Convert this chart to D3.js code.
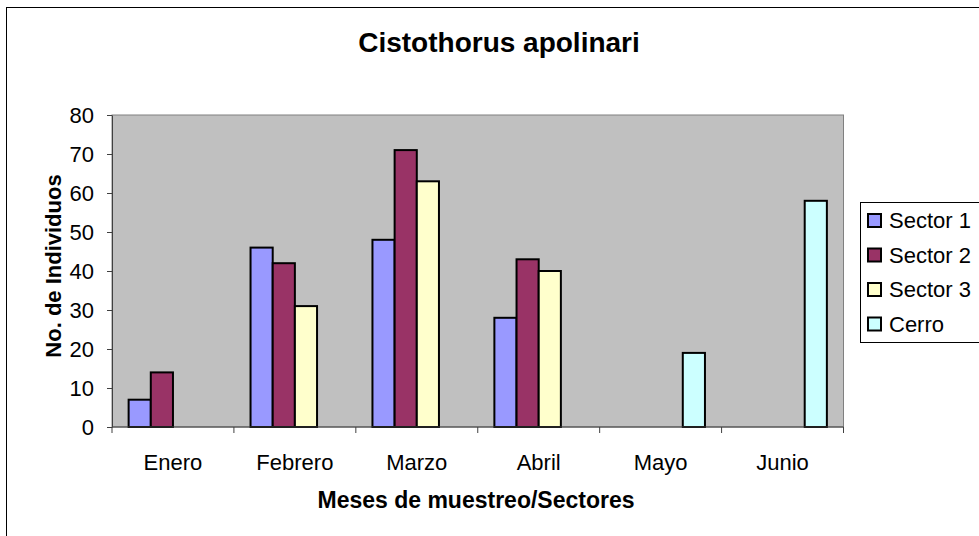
<!DOCTYPE html>
<html>
<head>
<meta charset="utf-8">
<script src="https://cdn.jsdelivr.net/npm/d3@7"></script>
<style>
  html, body { margin: 0; padding: 0; background: #fff; }
  svg { display: block; font-family: Arial, "Liberation Sans", sans-serif; }
</style>
</head>
<body>
<svg id="chart" width="979" height="536"></svg>
<script>
// Monthly counts of Cistothorus apolinari by sampling sector
const months = ["Enero", "Febrero", "Marzo", "Abril", "Mayo", "Junio"];
const seriesNames = ["Sector 1", "Sector 2", "Sector 3", "Cerro"];
const sector1 = [7, 46, 48, 28, null, null];
const sector2 = [14, 42, 71, 43, null, null];
const sector3 = [null, 31, 63, 40, null, null];
const cerro = [null, null, null, null, 19, 58];
const yTicks = [0, 10, 20, 30, 40, 50, 60, 70, 80];
const seriesColors = ["#9999FF", "#993366", "#FFFFCC", "#CCFFFF"];

const seriesValues = [sector1, sector2, sector3, cerro];

const svg = d3.select("#chart");
const plot = { left: 112, right: 843.5, top: 115, bottom: 427 };

// Outer chart frame
svg.append("rect")
  .attr("x", 6.5).attr("y", 7.5)
  .attr("width", 990).attr("height", 540)
  .attr("fill", "#fff").attr("stroke", "#000").attr("stroke-width", 1);

// Plot area background
svg.append("rect")
  .attr("x", plot.left).attr("y", plot.top)
  .attr("width", plot.right - plot.left).attr("height", plot.bottom - plot.top)
  .attr("fill", "#C0C0C0").attr("stroke", "#808080").attr("stroke-width", 1);

const x = d3.scaleBand().domain(months).range([plot.left, plot.right]).padding(0);
const xs = d3.scaleBand().domain(seriesNames).range([0, x.bandwidth()])
  .paddingInner(0).paddingOuter(0.75);
const y = d3.scaleLinear().domain([0, 80]).range([plot.bottom, plot.top]);

// Bars
const bars = [];
seriesValues.forEach((vals, si) => {
  vals.forEach((v, mi) => {
    if (v != null) bars.push({ month: months[mi], series: seriesNames[si], color: seriesColors[si], value: v });
  });
});
svg.append("g").selectAll("rect").data(bars).join("rect")
  .attr("x", d => x(d.month) + xs(d.series))
  .attr("y", d => y(d.value))
  .attr("width", xs.bandwidth())
  .attr("height", d => y(0) - y(d.value))
  .attr("fill", d => d.color)
  .attr("stroke", "#000").attr("stroke-width", 2);

// Y axis
const yAxis = svg.append("g")
  .attr("transform", `translate(${plot.left},0)`)
  .call(d3.axisLeft(y).tickValues(yTicks).tickSize(5).tickPadding(13).tickSizeOuter(0));
yAxis.select(".domain").attr("stroke", "#404040");
yAxis.selectAll(".tick line").attr("stroke", "#404040");
yAxis.selectAll("text").attr("font-size", 22).attr("fill", "#000")
  .attr("font-family", "Arial, 'Liberation Sans', sans-serif");

// X axis with ticks at category boundaries
const xAxis = svg.append("g").attr("transform", `translate(0,${plot.bottom})`);
xAxis.append("line")
  .attr("x1", plot.left).attr("x2", plot.right)
  .attr("stroke", "#404040");
const boundaries = months.map(m => x(m)).concat([x(months[months.length - 1]) + x.bandwidth()]);
xAxis.selectAll("line.tk").data(boundaries).join("line").attr("class", "tk")
  .attr("x1", d => d).attr("x2", d => d).attr("y1", 0).attr("y2", 6)
  .attr("stroke", "#404040");
xAxis.selectAll("text").data(months).join("text")
  .attr("x", d => x(d) + x.bandwidth() / 2)
  .attr("y", 43)
  .attr("text-anchor", "middle")
  .attr("font-size", 22)
  .text(d => d);

// Titles
svg.append("text")
  .attr("x", 499).attr("y", 52)
  .attr("text-anchor", "middle")
  .attr("font-size", 28).attr("font-weight", "bold")
  .text("Cistothorus apolinari");

svg.append("text")
  .attr("x", 476).attr("y", 508)
  .attr("text-anchor", "middle")
  .attr("font-size", 23).attr("font-weight", "bold")
  .text("Meses de muestreo/Sectores");

svg.append("text")
  .attr("transform", `translate(61,266) rotate(-90)`)
  .attr("text-anchor", "middle")
  .attr("font-size", 22).attr("font-weight", "bold")
  .text("No. de Individuos");

// Legend
const legend = svg.append("g");
legend.append("rect")
  .attr("x", 860.5).attr("y", 202.5)
  .attr("width", 140).attr("height", 140)
  .attr("fill", "#fff").attr("stroke", "#000").attr("stroke-width", 1);
const items = legend.selectAll("g.item").data(seriesNames).join("g").attr("class", "item")
  .attr("transform", (d, i) => `translate(868,${220 + i * 34.5})`);
items.append("rect")
  .attr("x", 0).attr("y", -6).attr("width", 13).attr("height", 13)
  .attr("fill", (d, i) => seriesColors[i])
  .attr("stroke", "#000").attr("stroke-width", 2);
items.append("text")
  .attr("x", 21).attr("y", 8)
  .attr("font-size", 22)
  .text(d => d);
</script>
</body>
</html>
